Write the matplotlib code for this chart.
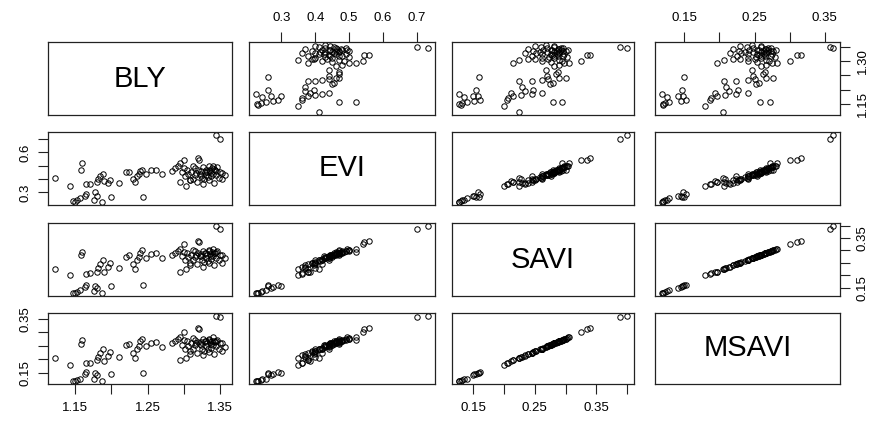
import matplotlib
matplotlib.use("Agg")
import matplotlib.pyplot as plt

plt.rcParams['font.family'] = ['Liberation Sans', 'DejaVu Sans']

# variables of the pairs plot (one value per field plot)
names = ['BLY', 'EVI', 'SAVI', 'MSAVI']

bly = [1.150, 1.153, 1.157, 1.147, 1.178, 1.180, 1.176, 1.199, 1.244, 1.165, 1.187, 1.163,
       1.122, 1.143, 1.158, 1.159, 1.165, 1.170, 1.180, 1.182, 1.185, 1.188, 1.190, 1.195,
       1.198, 1.210, 1.220, 1.225, 1.230, 1.232, 1.236, 1.240, 1.242, 1.238, 1.248, 1.255,
       1.262, 1.270, 1.283, 1.288, 1.292, 1.295, 1.294, 1.298,
       1.302, 1.305, 1.308, 1.310, 1.312, 1.315, 1.316, 1.318, 1.320, 1.321, 1.322, 1.324,
       1.325, 1.326, 1.328, 1.330, 1.331, 1.332, 1.334, 1.335, 1.336, 1.338, 1.339, 1.340,
       1.341, 1.343, 1.344, 1.345, 1.350, 1.346, 1.348, 1.350, 1.352, 1.357, 1.303, 1.313,
       1.327, 1.333, 1.337, 1.300, 1.319, 1.342, 1.329, 1.335, 1.317, 1.340, 1.306, 1.345,
       1.323, 1.309, 1.353, 1.300]

evi = [0.228, 0.240, 0.255, 0.232, 0.300, 0.270, 0.242, 0.262, 0.262, 0.290, 0.225, 0.275,
       0.410, 0.350, 0.470, 0.520, 0.360, 0.362, 0.380, 0.400, 0.420, 0.440, 0.385, 0.370,
       0.395, 0.370, 0.450, 0.455, 0.400, 0.380, 0.420, 0.460, 0.470, 0.440, 0.440, 0.470,
       0.470, 0.440, 0.460, 0.480, 0.500, 0.520, 0.380, 0.450,
       0.420, 0.470, 0.390, 0.450, 0.400, 0.430, 0.480, 0.380, 0.560, 0.545, 0.440, 0.460,
       0.410, 0.490, 0.400, 0.470, 0.430, 0.450, 0.500, 0.390, 0.460, 0.420, 0.480, 0.440,
       0.370, 0.465, 0.430, 0.733, 0.700, 0.490, 0.410, 0.455, 0.400, 0.430, 0.350, 0.500,
       0.360, 0.415, 0.445, 0.485, 0.470, 0.475, 0.455, 0.470, 0.445, 0.495, 0.435, 0.460,
       0.425, 0.395, 0.445, 0.540]

savi = [0.128, 0.133, 0.140, 0.130, 0.158, 0.150, 0.135, 0.155, 0.160, 0.162, 0.127, 0.152,
        0.225, 0.200, 0.280, 0.295, 0.205, 0.207, 0.215, 0.228, 0.245, 0.262, 0.212, 0.235,
        0.248, 0.230, 0.275, 0.280, 0.245, 0.225, 0.262, 0.290, 0.300, 0.272, 0.270, 0.285,
        0.288, 0.268, 0.282, 0.290, 0.298, 0.305, 0.215, 0.276,
        0.262, 0.290, 0.250, 0.282, 0.262, 0.274, 0.296, 0.245, 0.340, 0.335, 0.278, 0.286,
        0.262, 0.298, 0.252, 0.290, 0.270, 0.282, 0.300, 0.248, 0.286, 0.264, 0.292, 0.276,
        0.240, 0.288, 0.270, 0.400, 0.388, 0.296, 0.260, 0.282, 0.250, 0.268, 0.225, 0.302,
        0.235, 0.258, 0.278, 0.294, 0.288, 0.290, 0.290, 0.296, 0.282, 0.304, 0.272, 0.292,
        0.276, 0.240, 0.282, 0.325]

msavi = [0.119, 0.122, 0.128, 0.120, 0.148, 0.141, 0.126, 0.146, 0.150, 0.153, 0.118, 0.145,
         0.205, 0.180, 0.258, 0.272, 0.186, 0.188, 0.196, 0.208, 0.224, 0.240, 0.193, 0.214,
         0.227, 0.210, 0.252, 0.257, 0.224, 0.206, 0.240, 0.267, 0.276, 0.250, 0.248, 0.262,
         0.265, 0.246, 0.259, 0.267, 0.275, 0.282, 0.196, 0.253,
         0.240, 0.267, 0.229, 0.259, 0.240, 0.252, 0.273, 0.225, 0.316, 0.311, 0.256, 0.263,
         0.240, 0.275, 0.231, 0.267, 0.248, 0.259, 0.277, 0.228, 0.263, 0.242, 0.269, 0.254,
         0.220, 0.265, 0.248, 0.362, 0.358, 0.273, 0.239, 0.259, 0.229, 0.246, 0.206, 0.279,
         0.215, 0.237, 0.256, 0.271, 0.265, 0.267, 0.267, 0.273, 0.259, 0.281, 0.250, 0.269,
         0.254, 0.220, 0.259, 0.300]

data = [bly, evi, savi, msavi]

# axis ticks and which of them carry a label (R drops overlapping ones)
ticks = [[1.15, 1.20, 1.25, 1.30, 1.35],
         [0.3, 0.4, 0.5, 0.6, 0.7],
         [0.15, 0.20, 0.25, 0.30, 0.35, 0.40],
         [0.15, 0.20, 0.25, 0.30, 0.35]]
xlabels = [['1.15', '', '1.25', '', '1.35'],
           ['0.3', '0.4', '0.5', '0.6', '0.7'],
           ['0.15', '', '0.25', '', '0.35', ''],
           ['0.15', '', '0.25', '', '0.35']]
ylabels = [['1.15', '', '', '1.30', ''],
           ['0.3', '', '', '0.6', ''],
           ['0.15', '', '', '', '0.35', ''],
           ['0.15', '', '', '', '0.35']]

W, H = 869, 423
cols = [(48, 232), (249, 435), (452, 634), (655, 840)]
rows = [(42, 115), (132, 205), (223, 296), (313, 384)]

fig = plt.figure(figsize=(W / 100, H / 100), dpi=100)


def r_range(v):
    lo, hi = min(v), max(v)
    d = (hi - lo) * 0.04
    return lo - d, hi + d


for i in range(4):
    for j in range(4):
        x0, x1 = cols[j]
        y0, y1 = rows[i]
        ax = fig.add_axes([x0 / W, 1 - y1 / H, (x1 - x0) / W, (y1 - y0) / H])
        for s in ax.spines.values():
            s.set_linewidth(0.9)
            s.set_color('#222222')
        ax.set_xlim(r_range(data[j]))
        ax.set_ylim(r_range(data[i]))
        ax.set_xticks([])
        ax.set_yticks([])
        if i == j:
            ax.text(0.5, 0.5, names[i], ha='center', va='center', fontsize=21,
                    transform=ax.transAxes)
        else:
            ax.plot(data[j], data[i], 'o', ls='', ms=3.9, mfc='none', mec='black', mew=0.7)

        tp = dict(length=7, width=0.8, labelsize=9.5, color='#222222')
        if i == 0 and j % 2 == 1:
            ax.set_xticks(ticks[j])
            ax.set_xticklabels(xlabels[j])
            ax.xaxis.tick_top()
            ax.tick_params(axis='x', pad=6, **tp)
        if i == 3 and j % 2 == 0:
            ax.set_xticks(ticks[j])
            ax.set_xticklabels(xlabels[j])
            ax.tick_params(axis='x', pad=6, **tp)
        if j == 0 and i % 2 == 1:
            ax.set_yticks(ticks[i])
            ax.set_yticklabels(ylabels[i], rotation=90, va='center')
            ax.tick_params(axis='y', pad=5, **tp)
        if j == 3 and i % 2 == 0:
            ax.set_yticks(ticks[i])
            ax.set_yticklabels(ylabels[i], rotation=90, va='center')
            ax.yaxis.tick_right()
            ax.tick_params(axis='y', pad=5, **tp)

fig.savefig('out.png', dpi=100)
